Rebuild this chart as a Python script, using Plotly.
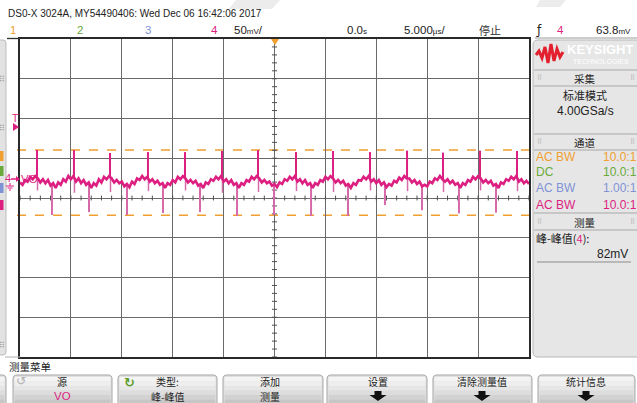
import numpy as np
import plotly.graph_objects as go

# ---------------- data ----------------
TIME_PER_DIV_US = 5.0          # 5.000 µs/div
VOLT_PER_DIV_MV = 50.0         # 50 mV/div
N_HDIV, N_VDIV = 10, 8
GROUND_ABOVE_CENTER_MV = 22.6  # channel-4 ground marker position above screen centre

# channel 4 ripple baseline (mV), sampled every 0.25 µs from -25 µs to +25 µs
base_mv = [
    -3, -6, 0, -2, 4, 1, 5,
    2, -3, 1, -4, 0, -7, -4, -10, -3, -6, 1, -2, 5, 1, 5,
    -2, 2, -4, 0, -6, -3, -10, -4, -7, 1, -3, 4, 1, 5,
    2, -3, 0, -4, -2, -8, -5, -9, -2, -5, 2, 0, 5, 1, 4,
    -2, 1, -4, -1, -6, -4, -10, -4, -6, 0, -3, 4, 1, 5,
    2, -3, 0, -4, -1, -7, -5, -10, -3, -5, 1, -1, 4, 1, 5,
    -2, 1, -4, 0, -6, -4, -10, -4, -6, 0, -2, 4, 1, 5,
    2, -3, 0, -4, -2, -7, -5, -9, -3, -5, 1, -1, 4, 1, 5,
    -2, 1, -4, 0, -6, -4, -10, -4, -6, 0, -2, 4, 1, 5,
    2, -3, 0, -4, -1, -7, -5, -10, -4, -6, 0, -1, 4, 1, 5,
    -2, 1, -4, 0, -6, -3, -9, -5, -7, -1, -3, 3, 0, 5, 2,
    2, -3, 0, -5, -2, -8, -6, -8, -2, -4, 2, 0, 5, 1,
    -2, 1, -4, -1, -6, -4, -10, -4, -6, 0, -2, 4, 1, 5,
    2, -3, 0, -4, -1, -7, -5, -10, -3, -5, 1, -1, 4, 1, 5,
    -2, 1, -4, -1, -5,
]

# switching spikes
up_spike_t = [-23.33, -19.70, -16.16, -12.43, -8.79, -5.16, -1.62, 2.11, 5.75, 9.38, 13.02, 16.55, 20.19, 23.82]
up_spike_peak = [37.7, 37.7, 34.0, 35.2, 35.2, 36.5, 37.7, 35.2, 36.5, 35.2, 37.0, 34.5, 37.0, 36.5]
up_spike_tail = [-13, -16, -15, -14, -13, -16, -15, -14, -15, -13, -14, -15, -13, -14]
down_spike_t = [-21.86, -18.22, -14.49, -10.95, -7.32, -3.68, -0.05, 3.59, 7.22, 10.85, 14.49, 18.12, 21.76]
down_spike_min = [-44.0, -40.3, -44.0, -41.5, -40.3, -45.3, -44.0, -45.3, -45.3, -31.5, -38.0, -42.0, -41.0]

CURSOR_HI_MV = 37.7
CURSOR_LO_MV = -44.3
TRIGGER_LEVEL_MV = 63.8

# ---------------- geometry helpers ----------------
W, H = 637, 403
L, R, T, B = 20, 529, 39, 357
NARROW = "Liberation Sans Narrow, Liberation Sans, Arial, sans-serif"
CJK = "Noto Sans CJK SC, Noto Sans CJK JP, sans-serif"

PINK = "#dc1f80"
PINK_LIGHT = "#d66aa9"
ORANGE = "#f0a030"
GREEN = "#6aaa3a"
BLUE = "#7f93d6"


def fx(px):
    return (px - L) / (R - L)


def fy(py):
    return (B - py) / (B - T)


annotations = []
shapes = []


def text(s, x, y, size=12, color="#222222", anchor="center", family=NARROW):
    annotations.append(dict(text=s, x=fx(x), y=fy(y), xref="paper", yref="paper",
                            xanchor=anchor, yanchor="middle", showarrow=False, borderpad=0,
                            font=dict(size=size, color=color, family=family)))


def pline(x0, y0, x1, y1, color="#888", width=1, dash="solid"):
    shapes.append(dict(type="line", xref="paper", yref="paper", x0=fx(x0), y0=fy(y0),
                       x1=fx(x1), y1=fy(y1), line=dict(color=color, width=width, dash=dash)))


def prect(x0, y0, x1, y1, fill, line=None, lw=1):
    shapes.append(dict(type="rect", xref="paper", yref="paper", x0=fx(x0), y0=fy(y0),
                       x1=fx(x1), y1=fy(y1), fillcolor=fill,
                       line=dict(color=line or fill, width=lw if line else 0)))


def P(x, y):
    return f"{fx(x):.5f},{fy(y):.5f}"


def rrect(x0, y0, x1, y1, r, fill, line, lw=1):
    path = (f"M {P(x0 + r, y0)} L {P(x1 - r, y0)} Q {P(x1, y0)} {P(x1, y0 + r)} "
            f"L {P(x1, y1 - r)} Q {P(x1, y1)} {P(x1 - r, y1)} L {P(x0 + r, y1)} "
            f"Q {P(x0, y1)} {P(x0, y1 - r)} L {P(x0, y0 + r)} Q {P(x0, y0)} {P(x0 + r, y0)} Z")
    shapes.append(dict(type="path", xref="paper", yref="paper", path=path, fillcolor=fill,
                       line=dict(color=line, width=lw)))


def ppath(points, fill=None, line=None, lw=1, close=True):
    path = "M " + " L ".join(P(x, y) for x, y in points) + (" Z" if close else "")
    d = dict(type="path", xref="paper", yref="paper", path=path,
             line=dict(color=line or "rgba(0,0,0,0)", width=lw if line else 0))
    if fill:
        d["fillcolor"] = fill
    shapes.append(d)


# ---------------- axes ranges ----------------
t_half = TIME_PER_DIV_US * N_HDIV / 2
y_center = -GROUND_ABOVE_CENTER_MV
y_lo = y_center - VOLT_PER_DIV_MV * N_VDIV / 2
y_hi = y_center + VOLT_PER_DIV_MV * N_VDIV / 2

t = np.linspace(-t_half, t_half, len(base_mv))
base = np.array(base_mv, dtype=float)

fig = go.Figure()

# centre-line tick marks (graticule decoration)
tx, ty = [], []
for k in range(int(N_HDIV * 5) + 1):
    xv = -t_half + k * TIME_PER_DIV_US / 5
    tx += [xv, xv, None]
    ty += [y_center - 3.1, y_center + 3.1, None]
for k in range(int(N_VDIV * 5) + 1):
    yv = y_lo + k * VOLT_PER_DIV_MV / 5
    tx += [-0.25, 0.25, None]
    ty += [yv, yv, None]
fig.add_trace(go.Scatter(x=tx, y=ty, mode="lines", line=dict(color="#505050", width=1),
                         hoverinfo="skip", showlegend=False))

# down spikes (lighter: few samples)
dx, dy = [], []
for ts, vm in zip(down_spike_t, down_spike_min):
    b0 = float(np.interp(ts, t, base))
    dx += [ts, ts, None]
    dy += [b0, vm, None]
fig.add_trace(go.Scatter(x=dx, y=dy, mode="lines", line=dict(color=PINK_LIGHT, width=2),
                         hoverinfo="skip", showlegend=False))

# ringing tails below the up spikes
rx, ry = [], []
for ts, vt in zip(up_spike_t, up_spike_tail):
    b0 = float(np.interp(ts, t, base))
    rx += [ts + 0.05, ts + 0.05, None]
    ry += [b0, vt, None]
fig.add_trace(go.Scatter(x=rx, y=ry, mode="lines", line=dict(color=PINK_LIGHT, width=1.5),
                         hoverinfo="skip", showlegend=False))

# baseline ripple
fig.add_trace(go.Scatter(x=t, y=base, mode="lines", line=dict(color=PINK, width=2.6),
                         hoverinfo="skip", showlegend=False))

# up spikes
ux, uy = [], []
for ts, vp in zip(up_spike_t, up_spike_peak):
    b0 = float(np.interp(ts, t, base))
    ux += [ts, ts, None]
    uy += [b0, vp, None]
fig.add_trace(go.Scatter(x=ux, y=uy, mode="lines", line=dict(color=PINK, width=2),
                         hoverinfo="skip", showlegend=False))

# measurement cursors
for yv in (CURSOR_HI_MV, CURSOR_LO_MV):
    shapes.append(dict(type="line", xref="paper", yref="y", x0=fx(17), x1=fx(531), y0=yv, y1=yv,
                       layer="between", line=dict(color=ORANGE, width=1.5, dash="dash")))

# ---------------- screen furniture ----------------
# faint watermark streaks at the top
ppath([(236, 0), (280, 0), (272, 9), (229, 9)], fill="#ececec")
ppath([(540, 0), (566, 0), (560, 7), (536, 7)], fill="#ececec")

# header lines
pline(7, 38.5, L, 38.5, "#303030", 1.3)
pline(535, 38, 637, 38, "#9a9a9a", 1)
pline(5, 357, L, 357, "#b0b0b0", 1)

# header texts
text("DS0-X 3024A, MY54490406: Wed Dec 06 16:42:06 2017", 7, 14, 10, "#222", "left")
text("1", 13, 30, 11.5, ORANGE)
text("2", 80, 30, 11.5, GREEN)
text("3", 148, 30, 11.5, BLUE)
text("4", 214, 30, 11.5, PINK)
text("50<span style='font-size:8px'>mV</span>/", 233, 30, 11.5, "#222", "left")
text("0.0<span style='font-size:8px'>s</span>", 357, 30, 11.5, "#222")
text("5.000<span style='font-size:8px'>µs</span>/", 424, 30, 11.5, "#222")
text("停止", 490, 30, 11, "#333", family=CJK)
text("ƒ", 539, 30, 12, "#222", family="DejaVu Sans")
text("4", 560, 30, 11.5, PINK)
text("63.8<span style='font-size:8px'>mV</span>", 613, 30, 11.5, "#222")

# trigger-position marker (top centre)
ppath([(271, 39), (279, 39), (275, 45)], fill=ORANGE)

# left channel tab strip
rrect(-6, 40, 6, 355, 3, "#e2e2e2", "#bdbdbd")
text("⠿", 2, 79, 8, "#999", family="DejaVu Sans")
text("⠿", 2, 128, 8, "#999", family="DejaVu Sans")
text("⠿", 2, 345, 8, "#999", family="DejaVu Sans")
prect(0, 151, 3.5, 161, ORANGE)
prect(0, 166, 3.5, 176, GREEN)
prect(0, 183, 3.5, 193, BLUE)
prect(0, 200, 3.5, 210, PINK)

# trigger level marker "T" and channel ground marker
text("T", 15, 118, 10.5, PINK)
ppath([(13, 123), (19, 127), (13, 131)], fill=PINK)
text("4", 8, 178, 11, PINK)
pline(11, 179, 19, 179, PINK, 1.5)
ppath([(16, 176), (20, 179), (16, 182)], fill=PINK)
pline(10, 183, 10, 186, PINK, 1)
pline(6, 186, 14, 186, PINK, 1)
pline(7.5, 188, 12.5, 188, PINK, 1)
pline(9, 190, 11, 190, PINK, 1)
text("VO", 29.5, 179, 11.5, PINK)

# right information panel
rrect(533, 40, 646, 357, 5, "#e6e6e6", "#b8b8b8")
# Keysight logo
ppath([(536, 55), (539, 51), (542, 58), (545, 47), (548, 63), (551, 44), (554, 61), (557, 49),
       (560, 57), (563, 52)], line="#e2202e", lw=3, close=False)
text("<b>KEYSIGHT</b>", 600, 49, 13, "#ffffff", family="Liberation Sans, Arial, sans-serif")
text("TECHNOLOGIES", 601, 61, 7, "#ffffff", family="Liberation Sans, Arial, sans-serif")

for ytop, ybot, lab, yl in [(70, 86, "采集", 78), (134, 150, "通道", 142), (213, 230, "测量", 222)]:
    pline(534, ytop, 637, ytop, "#a8a8a8", 1)
    pline(534, ybot, 637, ybot, "#a8a8a8", 1)
    text(lab, 585, yl, 10.5, "#222", family=CJK)
    text("⠿", 539, yl, 7, "#aaa", family="DejaVu Sans")
    text("⠿", 632, yl, 7, "#aaa", family="DejaVu Sans")

text("标准模式", 585, 95, 11, "#222", family=CJK)
text("4.00GSa/s", 585, 111, 12, "#222")

for lab, val, col, yy in [("AC BW", "10.0:1", ORANGE, 157), ("DC", "10.0:1", GREEN, 172),
                          ("AC BW", "1.00:1", BLUE, 188), ("AC BW", "10.0:1", PINK, 205)]:
    text(lab, 535, yy, 12, col, "left")
    text(val, 638, yy, 12, col, "right")

text("峰-峰值(<span style='color:%s'>4</span>):" % PINK, 535, 238, 11, "#222", "left", family=CJK)
text("82mV", 629, 254, 12, "#222", "right")
pline(537, 262, 631, 262, "#8a8a8a", 1)

# soft-key menu
text("测量菜单", 8, 366, 10.5, "#222", "left", family=CJK)
buttons = [(-12, 6), (13, 112), (118, 217), (223, 323), (327, 427), (433, 532), (538, 635)]
grad = ["#f4f4f4", "#eeeeee", "#e6e6e6", "#dddddd", "#d2d2d2", "#c6c6c6"]
for x0, x1 in buttons:
    rrect(x0, 375, x1, 412, 4, "#e0e0e0", "#a6a6a6")
    for i, c in enumerate(grad):
        ya = 377 + i * 4.5
        prect(x0 + 1.5, ya, x1 - 1.5, ya + 4.6, c)

text("↺", 21, 381, 12, "#b0b0b0", family="DejaVu Sans")
text("源", 62, 381, 10, "#222", family=CJK)
text("VO", 62, 396, 11.5, PINK)
text("<b>↻</b>", 129, 382, 13, "#5a9e2a", family="DejaVu Sans")
text("类型:", 167, 381, 10, "#222", family=CJK)
text("峰-峰值", 167, 396, 10, "#222", family=CJK)
text("添加", 270, 381, 10, "#222", family=CJK)
text("测量", 270, 396, 10, "#222", family=CJK)
for cx, lab in [(378, "设置"), (482, "清除测量值"), (586, "统计信息")]:
    text(lab, cx, 381, 10, "#222", family=CJK)
    ppath([(cx - 3.5, 391), (cx + 3.5, 391), (cx + 3.5, 395), (cx + 8.5, 395), (cx, 401),
           (cx - 8.5, 395), (cx - 3.5, 395)], fill="#111")

fig.update_layout(
    width=W, height=H, autosize=False,
    margin=dict(l=L, r=W - R, t=T, b=H - B, pad=0),
    paper_bgcolor="white", plot_bgcolor="white",
    showlegend=False,
    xaxis=dict(range=[-t_half, t_half], tick0=-t_half, dtick=TIME_PER_DIV_US, showgrid=True,
               gridcolor="#6a6a6a", gridwidth=1, zeroline=False, showticklabels=False, ticks="",
               showline=True, linecolor="#2a2a2a", linewidth=1.5, mirror=True, fixedrange=True),
    yaxis=dict(range=[y_lo, y_hi], tick0=y_lo, dtick=VOLT_PER_DIV_MV, showgrid=True,
               gridcolor="#6a6a6a", gridwidth=1, zeroline=False, showticklabels=False, ticks="",
               showline=True, linecolor="#2a2a2a", linewidth=1.5, mirror=True, fixedrange=True),
    shapes=shapes,
    annotations=annotations,
)

fig.write_html("out.html", config={"displayModeBar": False})
